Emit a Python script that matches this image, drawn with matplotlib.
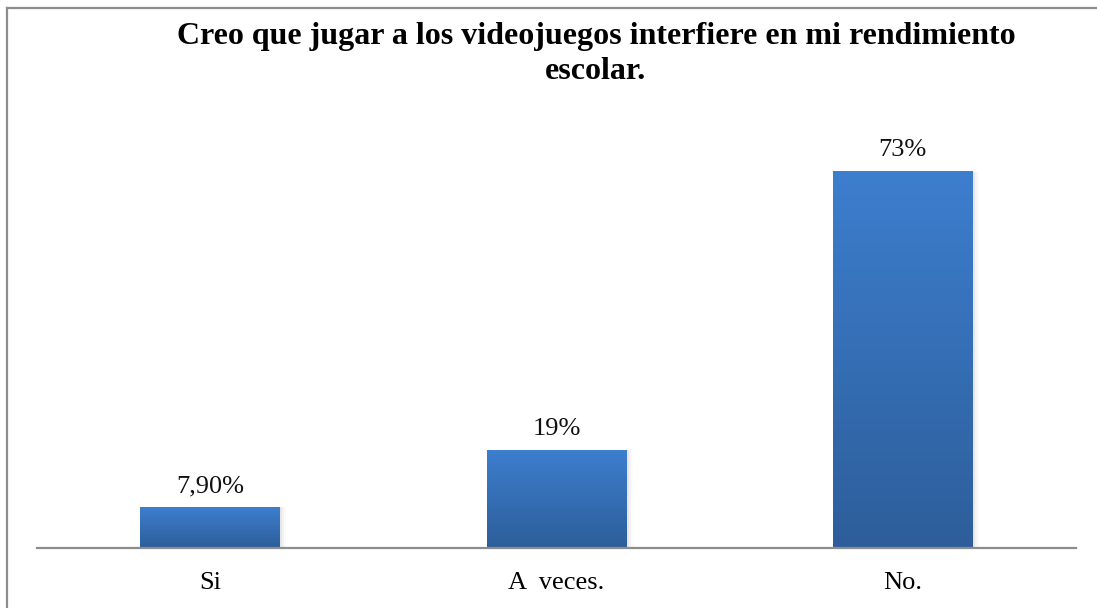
import numpy as np
from matplotlib import pyplot as plt
from matplotlib.lines import Line2D

categories = ['Si', 'A  veces.', 'No.']
values = [7.9, 19, 73]
value_labels = ['7,90%', '19%', '73%']
title = 'Creo que jugar a los videojuegos interfiere en mi rendimiento\nescolar.'

plt.rcParams['font.family'] = ['Liberation Serif', 'DejaVu Serif']

fig = plt.figure(figsize=(10.97, 6.08), dpi=100)
# plot area in pixels: x 37..1076, baseline at y=548
W, H = 1097, 608
ax = fig.add_axes([37 / W, (H - 548) / H, 1039 / W, 428 / H])

bar_w = 0.404
top_col = np.array([0x3d, 0x7e, 0xce]) / 255
bot_col = np.array([0x2d, 0x5e, 0x9a]) / 255
grad = np.linspace(0, 1, 256)[:, None]
grad_img = top_col[None, None, :] * (1 - grad[..., None]) + bot_col[None, None, :] * grad[..., None]

for i, (v, lab) in enumerate(zip(values, value_labels)):
    # soft shadow behind each bar
    for k, a in enumerate([0.05, 0.03, 0.015]):
        d = 0.003 * (k + 1)
        ax.bar(i + d, v + 0.15 * (k + 1), width=bar_w + 2 * d, bottom=-0.15 * (k + 1),
               color='black', alpha=a, linewidth=0, zorder=1)
    ax.imshow(grad_img, extent=(i - bar_w / 2, i + bar_w / 2, 0, v),
              aspect='auto', zorder=2, interpolation='bilinear')
    ax.text(i, v + 4.1, lab, ha='center', va='center', fontsize=19, color='#111111')

ax.set_xlim(-0.5, 2.5)
ax.set_ylim(0, 83)
ax.set_xticks(range(len(categories)))
ax.set_xticklabels(categories, fontsize=19)
ax.tick_params(axis='x', length=0, pad=17)
ax.set_yticks([])
for s in ['top', 'right', 'left']:
    ax.spines[s].set_visible(False)
ax.spines['bottom'].set_color('#8c8c8c')
ax.spines['bottom'].set_linewidth(1.6)
ax.spines['bottom'].set_zorder(3)

fig.text(596 / W, 1 - 22 / H, title, ha='center', va='top', fontsize=23,
         fontweight='bold', linespacing=1.28)

# outer frame (left and top edges)
fig.add_artist(Line2D([6.5 / W, 6.5 / W], [0, 1 - 7.5 / H], transform=fig.transFigure,
                      color='#8c8c8c', linewidth=1.6))
fig.add_artist(Line2D([6.5 / W, 1], [1 - 7.5 / H, 1 - 7.5 / H], transform=fig.transFigure,
                      color='#8c8c8c', linewidth=1.6))

fig.savefig('out.png', dpi=100)
